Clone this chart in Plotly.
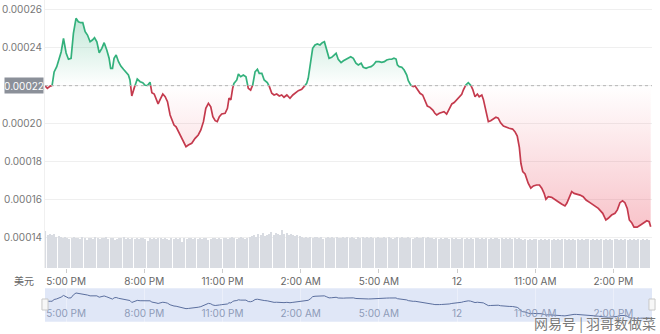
import numpy as np
import plotly.graph_objects as go

# ---------------- data ----------------
# hours relative to 5:00 PM
hours = [-0.81,-0.72,-0.61,-0.54,-0.46,-0.36,-0.27,-0.19,-0.10,0.00,0.09,0.19,0.28,0.38,0.47,0.56,0.64,0.73,0.82,0.92,
         1.01,1.09,1.18,1.27,1.37,1.46,1.56,1.65,1.71,1.78,1.84,1.92,2.01,2.10,2.20,2.30,2.39,2.45,2.52,2.62,
         2.73,2.84,2.94,3.03,3.12,3.22,3.29,3.38,3.45,3.53,3.61,3.71,3.80,3.89,3.99,4.05,4.14,4.22,4.31,4.40,
         4.50,4.60,4.69,4.82,4.95,5.07,5.17,5.27,5.36,5.46,5.55,5.63,5.72,5.80,5.88,5.97,6.10,6.19,6.25,6.32,
         6.39,6.44,6.55,6.61,6.70,6.80,6.90,6.99,7.08,7.16,7.25,7.34,7.41,7.51,7.60,7.72,7.80,7.89,7.98,8.08,
         8.18,8.27,8.36,8.47,8.59,8.70,8.78,8.91,9.04,9.13,9.23,9.29,9.39,9.46,9.55,9.64,9.74,9.83,9.91,10.00,
         10.09,10.19,10.28,10.36,10.44,10.55,10.64,10.74,10.83,10.92,11.02,11.12,11.21,11.32,11.40,11.51,11.60,11.70,11.79,11.89,
         12.01,12.11,12.21,12.30,12.40,12.49,12.58,12.66,12.71,12.78,12.88,12.97,13.07,13.13,13.22,13.32,13.39,13.48,13.58,13.68,
         13.77,13.86,13.96,14.07,14.15,14.22,14.32,14.41,14.50,14.60,14.70,14.80,14.89,14.99,15.09,15.18,15.24,15.34,15.43,15.52,
         15.60,15.69,15.78,15.85,15.95,16.01,16.07,16.14,16.20,16.29,16.39,16.49,16.58,16.67,16.78,16.88,17.00,17.13,17.22,17.31,
         17.39,17.45,17.52,17.61,17.73,17.83,17.93,18.05,18.16,18.25,18.34,18.41,18.50,18.63,18.76,18.88,19.01,19.14,19.21,19.31,
         19.40,19.49,19.59,19.72,19.84,19.95,20.10,20.25,20.42,20.59,20.71,20.80,20.93,21.06,21.15,21.25,21.35,21.44,21.53,21.61,
         21.70,21.79,21.91,22.04,22.17,22.28,22.37,22.43]

# price in units of 1e-5 USD
price_e5 = [21.97,21.83,21.95,21.95,22.69,22.97,23.32,23.74,24.46,23.69,23.36,23.41,24.72,25.51,25.33,25.28,25.28,24.81,24.63,24.28,
            24.37,24.49,24.28,23.70,23.93,24.23,23.85,23.41,22.88,22.88,23.41,23.58,23.23,23.00,22.83,22.70,22.53,22.27,21.43,21.88,
            22.32,22.18,22.13,21.99,21.98,22.15,21.60,21.53,21.25,21.01,21.25,21.53,21.39,21.13,20.43,20.17,19.90,19.81,19.55,19.29,
            19.03,18.76,18.85,18.94,19.20,19.38,19.64,20.08,20.78,21.04,20.86,20.34,20.13,20.08,20.34,20.48,20.52,20.78,21.31,21.22,
            21.83,22.09,22.27,22.58,22.44,22.53,22.44,21.83,21.74,22.01,22.70,22.83,22.62,22.62,22.27,22.13,21.92,21.57,21.48,21.53,
            21.43,21.48,21.36,21.48,21.31,21.48,21.57,21.71,21.78,21.92,22.09,22.36,23.15,23.93,24.11,24.16,24.11,24.23,24.28,23.85,
            23.41,23.46,23.58,23.67,23.36,23.18,23.28,23.36,23.44,23.49,23.41,23.15,23.06,23.15,22.94,22.88,22.94,22.97,23.06,23.23,
            23.23,23.20,23.23,23.32,23.36,23.36,23.41,23.37,23.06,22.97,22.94,22.79,22.53,22.23,22.01,21.92,21.95,21.74,21.57,21.48,
            21.18,20.90,20.83,20.69,20.52,20.43,20.52,20.57,20.60,20.48,20.78,21.01,21.08,21.25,21.43,21.52,21.74,22.01,22.13,22.01,
            21.78,21.39,21.53,21.39,21.48,21.25,20.86,20.52,20.08,20.13,20.20,20.31,20.26,20.02,19.85,19.78,19.73,19.69,19.55,19.32,
            18.73,17.89,17.45,17.33,16.84,16.58,16.70,16.75,16.75,16.58,16.31,16.00,16.13,16.10,16.00,15.87,15.75,15.65,15.79,16.13,
            16.40,16.31,16.28,16.22,16.13,15.96,15.82,15.70,15.52,15.26,14.91,15.00,15.17,15.26,15.44,15.82,15.92,15.82,15.52,14.91,
            14.77,14.53,14.53,14.65,14.77,14.87,14.82,14.56]

base_e5 = 21.97  # opening price (dashed reference line)

# 5-minute volume bars (arbitrary units)
volume = [37,33,34,33,34,31,32,
          31,30,31,30,29,30,31,30,30,29,31,30,28,30,30,29,31,30,29,30,30,31,29,30,30,28,29,30,30,31,29,30,29,
          30,29,30,29,30,30,29,27,30,29,30,29,30,30,29,30,29,28,30,29,30,29,30,26,30,29,30,30,29,30,29,30,29,30,30,28,29,30,30,29,30,29,30,30,29,30,31,30,29,30,31,30,29,30,31,
          32,33,31,34,33,35,32,33,34,36,33,35,34,33,38,34,35,33,34,33,32,33,32,
          31,30,31,30,31,30,31,31,30,31,29,30,31,30,31,30,31,30,30,31,30,31,30,31,30,29,31,30,31,30,31,30,31,30,30,31,30,30,31,30,31,30,29,30,31,30,31,30,30,31,30,29,30,31,30,30,31,30,31,30,
          30,29,30,29,30,29,30,30,29,30,29,30,29,29,30,29,30,29,30,29,30,30,29,30,29,30,29,30,29,30,30,29,30,29,30,29,30,29,30,29,30,
          29,28,29,28,29,28,29,29,28,29,28,29,28,29,28,29,28,29,28,29,29,28,29,28,29,28,29,28,29,28,29,29,28,29,28,29,28,29,28,29,28,29,28,29,29,28,29,28,29,28,29,28,29,28,29,28,29,28,29,28]

tick_hours = [0, 3, 6, 9, 12, 15, 18, 21]
tick_labels = ["5:00 PM", "8:00 PM", "11:00 PM", "2:00 AM", "5:00 AM", "12", "11:00 AM", "2:00 PM"]
y_ticks = [0.00014, 0.00016, 0.00018, 0.00020, 0.00022, 0.00024, 0.00026]
y_labels = ["0.00014", "0.00016", "0.00018", "0.00020", "", "0.00024", "0.00026"]
base_label = "0.00022"
currency = "美元"
watermark = "网易号 | 羽哥数做菜"

# ---------------- processing ----------------
h = np.array(hours)
p = np.array(price_e5) * 1e-5
base = base_e5 * 1e-5
vol_time = h[0] + 0.02 + np.arange(len(volume)) / 12.0

# split into above / below the reference price at crossings
xs, ys = [h[0]], [p[0]]
for i in range(1, len(h)):
    a, b = p[i - 1], p[i]
    if (a - base) * (b - base) < 0:
        t = (base - a) / (b - a)
        xs.append(h[i - 1] + t * (h[i] - h[i - 1]))
        ys.append(base)
    xs.append(h[i]); ys.append(p[i])
xs = np.array(xs); ys = np.array(ys)
up_line = [y if y >= base - 1e-12 else None for y in ys]
dn_line = [y if y <= base + 1e-12 else None for y in ys]
up_fill = np.maximum(ys, base)
dn_fill = np.minimum(ys, base)
base_arr = np.full(len(xs), base)

GREEN = "#33b17c"
RED = "#c43a4d"
FONT = "Inter"

x_range = [h[0], 22.48]

fig = go.Figure()

# volume bars
fig.add_trace(go.Bar(x=vol_time, y=volume, xaxis="x", yaxis="y",
                     marker=dict(color="#d9dce2", line=dict(width=0)),
                     hoverinfo="skip", showlegend=False))

# fills
fig.add_trace(go.Scatter(x=xs, y=base_arr, xaxis="x", yaxis="y2", mode="lines",
                         line=dict(width=0), hoverinfo="skip", showlegend=False))
fig.add_trace(go.Scatter(x=xs, y=up_fill, xaxis="x", yaxis="y2", mode="lines",
                         line=dict(width=0), fill="tonexty",
                         fillgradient=dict(type="vertical", start=base, stop=float(p.max()),
                                           colorscale=[[0, "rgba(51,177,124,0.0)"], [1, "rgba(51,177,124,0.30)"]]),
                         hoverinfo="skip", showlegend=False))
fig.add_trace(go.Scatter(x=xs, y=base_arr, xaxis="x", yaxis="y2", mode="lines",
                         line=dict(width=0), hoverinfo="skip", showlegend=False))
fig.add_trace(go.Scatter(x=xs, y=dn_fill, xaxis="x", yaxis="y2", mode="lines",
                         line=dict(width=0), fill="tonexty",
                         fillgradient=dict(type="vertical", start=float(p.min()), stop=base,
                                           colorscale=[[0, "rgba(234,70,90,0.32)"], [1, "rgba(234,70,90,0.0)"]]),
                         hoverinfo="skip", showlegend=False))

# lines
fig.add_trace(go.Scatter(x=xs, y=up_line, xaxis="x", yaxis="y2", mode="lines",
                         line=dict(color=GREEN, width=1.7), connectgaps=False, showlegend=False))
fig.add_trace(go.Scatter(x=xs, y=dn_line, xaxis="x", yaxis="y2", mode="lines",
                         line=dict(color=RED, width=1.7), connectgaps=False, showlegend=False))

# navigator
fig.add_trace(go.Scatter(x=h, y=p, xaxis="x3", yaxis="y3", mode="lines",
                         line=dict(color="#5b6f9e", width=1), showlegend=False, hoverinfo="skip"))

# layout geometry
M_T, M_B = 0, 12
PH = 334 - M_T - M_B
main_dom = [(PH - 268) / PH, 1.0]
nav_dom = [(PH - 321.7) / PH, (PH - 288.3) / PH]

y_lo = 0.00026 - (268 - 9) / 38.05 * 0.00002
y_hi = 0.00026 + 9 / 38.05 * 0.00002

fig.update_layout(
    width=660, height=334,
    margin=dict(l=45, r=8, t=M_T, b=M_B),
    paper_bgcolor="white", plot_bgcolor="white",
    bargap=0.5,
    font=dict(family=FONT, size=10, color="#666"),
    xaxis=dict(domain=[0, 1], range=x_range, tickvals=tick_hours, ticktext=tick_labels,
               showgrid=False, zeroline=False, ticks="outside", ticklen=4, tickcolor="#cccccc",
               tickfont=dict(size=10, color="#666"), anchor="y", showline=False, fixedrange=True),
    yaxis=dict(domain=main_dom, range=[0, 268], visible=False, fixedrange=True),
    yaxis2=dict(overlaying="y", side="left", range=[y_lo, y_hi], tickvals=y_ticks, ticktext=y_labels,
                showgrid=True, gridcolor="#efefef", zeroline=False, showline=True, linecolor="#f0f0f0",
                tickfont=dict(size=10, color="#777"), ticks="", fixedrange=True),
    xaxis3=dict(domain=[0, 1], range=x_range, anchor="y3", tickvals=tick_hours, ticktext=tick_labels,
                ticklabelposition="inside", ticklabeloverflow="allow", ticks="", showgrid=True,
                gridcolor="rgba(255,255,255,0.35)",
                zeroline=False, showline=False, tickfont=dict(size=10, color="#8e9bb7"), fixedrange=True),
    yaxis3=dict(domain=nav_dom, range=[13.15e-5, 27.53e-5], visible=False, fixedrange=True),
    shapes=[
        dict(type="rect", xref="x3 domain", yref="y3 domain", x0=0, x1=1, y0=0, y1=1,
             fillcolor="rgba(102,133,214,0.20)", line=dict(width=0), layer="below"),
        dict(type="line", xref="x domain", yref="y2", x0=0, x1=1, y0=base, y1=base,
             line=dict(color="#b5b5b5", width=1, dash="dot"), layer="above"),
        dict(type="rect", xref="x3 domain", yref="y3 domain", x0=-0.005, x1=0.005, y0=0.35, y1=0.68,
             fillcolor="#f7f7f7", line=dict(color="#c8c8c8", width=1)),
        dict(type="rect", xref="x3 domain", yref="y3 domain", x0=0.995, x1=1.005, y0=0.35, y1=0.68,
             fillcolor="#f7f7f7", line=dict(color="#c8c8c8", width=1)),
    ],
    annotations=[
        dict(xref="paper", yref="y2", x=0, y=base, xanchor="right", yanchor="middle", xshift=-1,
             text=base_label, showarrow=False, bgcolor="#8b9099", width=38, height=15, borderpad=0,
             font=dict(color="white", size=10, family=FONT)),
        dict(xref="paper", yref="paper", x=-0.055, y=main_dom[0], yanchor="top", yshift=-3,
             text=currency, showarrow=False, font=dict(size=10, color="#666", family="Noto Sans CJK SC")),
        dict(xref="paper", yref="paper", x=1.01, y=0, xanchor="right", yanchor="middle", yshift=-1,
             text=watermark, showarrow=False,
             font=dict(size=14, color="#7a7a7a", family="Noto Sans CJK SC", shadow="0px 0px 2px white")),
    ],
)

fig.write_html("out.html")
